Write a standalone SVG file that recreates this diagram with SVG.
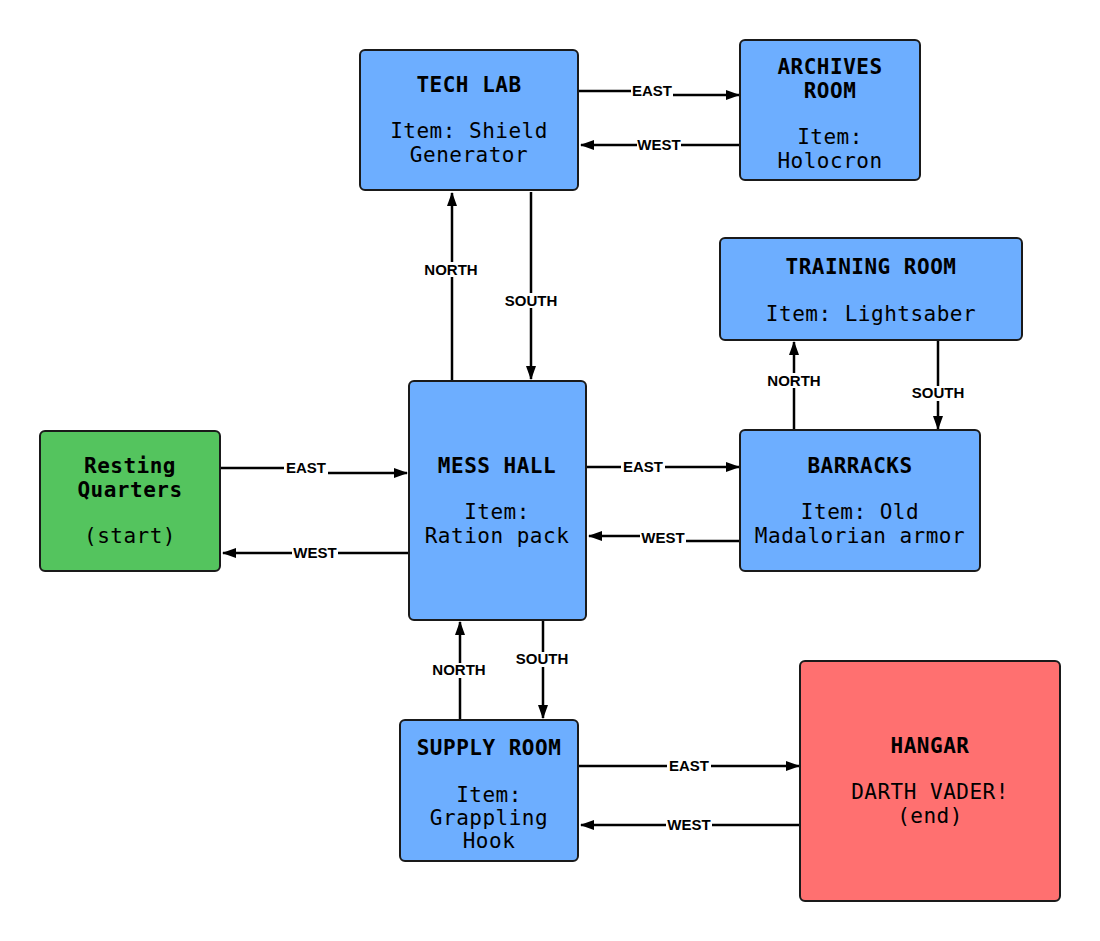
<svg xmlns="http://www.w3.org/2000/svg" width="1100" height="941" viewBox="0 0 1100 941">
<defs>
<marker id="arr" viewBox="0 0 14 10" refX="13" refY="5" markerWidth="14" markerHeight="10" markerUnits="userSpaceOnUse" orient="auto">
<path d="M0,0 L14,5 L0,10 Z" fill="#000"/>
</marker>
<style>
.box{stroke:#1a1a1a;stroke-width:2}
.blue{fill:#6daeff}
.green{fill:#54c45e}
.red{fill:#ff7070}
.t{font-family:"DejaVu Sans Mono","Liberation Mono",monospace;font-size:21px;letter-spacing:0.5px;text-anchor:middle;fill:#000}
.b{font-weight:bold}
.e{fill:none;stroke:#000;stroke-width:2.5;marker-end:url(#arr)}
.lb{fill:#fff}
.l{font-family:"Liberation Sans",Arial,sans-serif;font-size:15px;font-weight:bold;text-anchor:middle;fill:#000}
</style>
</defs>
<rect width="1100" height="941" fill="#fff"/>

<g id="connectors">
<path class="e" d="M579,91 L652,91 L652,95 L739,95"/>
<rect class="lb" x="631" y="83" width="42" height="15"/>
<text class="l" x="652" y="96">EAST</text>

<path class="e" d="M740,145 L581,145"/>
<rect class="lb" x="637" y="138" width="44" height="15"/>
<text class="l" x="659" y="150">WEST</text>

<path class="e" d="M531,192 L531,379"/>
<rect class="lb" x="502" y="293" width="58" height="15"/>
<text class="l" x="531" y="306">SOUTH</text>

<path class="e" d="M452,380 L452,193"/>
<rect class="lb" x="421" y="262" width="60" height="15"/>
<text class="l" x="451" y="275">NORTH</text>

<path class="e" d="M221,468 L306,468 L306,473 L407,473"/>
<rect class="lb" x="284" y="460" width="44" height="15"/>
<text class="l" x="306" y="473">EAST</text>

<path class="e" d="M408,553 L223,553"/>
<rect class="lb" x="292" y="546" width="46" height="15"/>
<text class="l" x="315" y="558">WEST</text>

<path class="e" d="M587,467 L739,467"/>
<rect class="lb" x="621" y="460" width="44" height="15"/>
<text class="l" x="643" y="472">EAST</text>

<path class="e" d="M740,541 L663,541 L663,536 L589,536"/>
<rect class="lb" x="640" y="531" width="46" height="15"/>
<text class="l" x="663" y="543">WEST</text>

<path class="e" d="M794,430 L794,342"/>
<rect class="lb" x="764" y="373" width="60" height="15"/>
<text class="l" x="794" y="386">NORTH</text>

<path class="e" d="M938,341 L938,429"/>
<rect class="lb" x="909" y="386" width="58" height="15"/>
<text class="l" x="938" y="398">SOUTH</text>

<path class="e" d="M543,621 L543,718"/>
<rect class="lb" x="513" y="652" width="58" height="15"/>
<text class="l" x="542" y="664">SOUTH</text>

<path class="e" d="M460,719 L460,622"/>
<rect class="lb" x="429" y="663" width="60" height="15"/>
<text class="l" x="459" y="675">NORTH</text>

<path class="e" d="M579,766 L799,766"/>
<rect class="lb" x="667" y="759" width="44" height="15"/>
<text class="l" x="689" y="771">EAST</text>

<path class="e" d="M800,825 L581,825"/>
<rect class="lb" x="666" y="818" width="46" height="15"/>
<text class="l" x="689" y="830">WEST</text>
</g>

<g id="tech-lab">
<rect class="box blue" x="360" y="50" width="218" height="140" rx="5"/>
<text class="t b" x="469" y="92">TECH LAB</text>
<text class="t" x="469" y="138">Item: Shield</text>
<text class="t" x="469" y="162">Generator</text>
</g>

<g id="archives-room">
<rect class="box blue" x="740" y="40" width="180" height="140" rx="5"/>
<text class="t b" x="830" y="74">ARCHIVES</text>
<text class="t b" x="830" y="98">ROOM</text>
<text class="t" x="830" y="144">Item:</text>
<text class="t" x="830" y="168">Holocron</text>
</g>

<g id="training-room">
<rect class="box blue" x="720" y="238" width="302" height="102" rx="5"/>
<text class="t b" x="871" y="274">TRAINING ROOM</text>
<text class="t" x="871" y="321">Item: Lightsaber</text>
</g>

<g id="mess-hall">
<rect class="box blue" x="409" y="381" width="177" height="239" rx="5"/>
<text class="t b" x="497" y="473">MESS HALL</text>
<text class="t" x="497" y="519">Item:</text>
<text class="t" x="497" y="543">Ration pack</text>
</g>

<g id="resting-quarters">
<rect class="box green" x="40" y="431" width="180" height="140" rx="5"/>
<text class="t b" x="130" y="473">Resting</text>
<text class="t b" x="130" y="497">Quarters</text>
<text class="t" x="130" y="543">(start)</text>
</g>

<g id="barracks">
<rect class="box blue" x="740" y="430" width="240" height="141" rx="5"/>
<text class="t b" x="860" y="473">BARRACKS</text>
<text class="t" x="860" y="519">Item: Old</text>
<text class="t" x="860" y="543">Madalorian armor</text>
</g>

<g id="supply-room">
<rect class="box blue" x="400" y="720" width="178" height="141" rx="5"/>
<text class="t b" x="489" y="755">SUPPLY ROOM</text>
<text class="t" x="489" y="802">Item:</text>
<text class="t" x="489" y="825">Grappling</text>
<text class="t" x="489" y="848">Hook</text>
</g>

<g id="hangar">
<rect class="box red" x="800" y="661" width="260" height="240" rx="5"/>
<text class="t b" x="930" y="753">HANGAR</text>
<text class="t" x="930" y="799">DARTH VADER!</text>
<text class="t" x="930" y="823">(end)</text>
</g>
</svg>
